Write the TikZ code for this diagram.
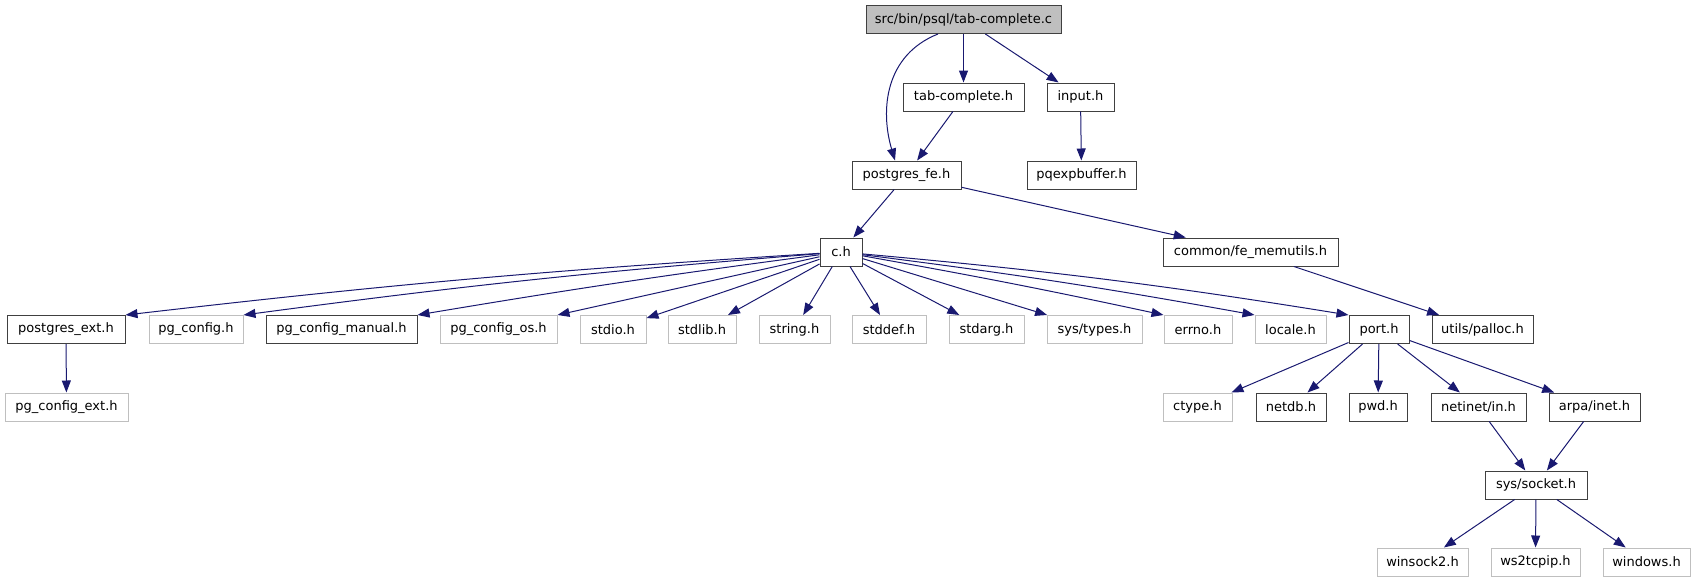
\documentclass[tikz,border=0pt]{standalone}
\usepackage{fontspec}
\setmainfont{DejaVu Sans}
\usetikzlibrary{arrows.meta}
\definecolor{edgecol}{HTML}{191970}
\definecolor{graybd}{HTML}{BFBFBF}
\definecolor{docbd}{HTML}{404040}
\begin{document}
\begin{tikzpicture}[x=1pt,y=-1pt,
  box/.style={line width=1pt, minimum height=28pt, inner sep=0pt, font=\fontsize{13}{15}\selectfont, text=black},
  doc/.style={box, draw=docbd},
  undoc/.style={box, draw=graybd},
  rootbox/.style={box, draw=docbd, fill=graybd},
  edge/.style={draw=edgecol, line width=1pt, -{Triangle[length=12pt,width=9pt]}}]
\useasboundingbox (0,0) rectangle (1695,581);
% row 1-3
\node[rootbox, minimum width=195pt] (root) at (963.5,19.5) {src/bin/psql/tab-complete.c};
\node[doc, minimum width=121pt] (tabh) at (963.5,97) {tab-complete.h};
\node[doc, minimum width=67pt] (inputh) at (1080.5,97) {input.h};
\node[doc, minimum width=109pt] (pgfe) at (906.5,175) {postgres\_fe.h};
\node[doc, minimum width=109pt] (pqexp) at (1081.5,175) {pqexpbuffer.h};
% row 4
\node[doc, minimum width=42pt] (ch) at (841,252) {c.h};
\node[doc, minimum width=175pt] (femem) at (1250.5,252) {common/fe\_memutils.h};
% row 5
\node[doc, minimum width=118pt] (pgext) at (66,329.5) {postgres\_ext.h};
\node[undoc, minimum width=94pt] (pgconfig) at (196,329.5) {pg\_config.h};
\node[doc, minimum width=151pt] (pgman) at (341.5,329.5) {pg\_config\_manual.h};
\node[undoc, minimum width=117pt] (pgos) at (498.5,329.5) {pg\_config\_os.h};
\node[undoc, minimum width=66pt] (stdio) at (613,329.5) {stdio.h};
\node[undoc, minimum width=68pt] (stdlib) at (702,329.5) {stdlib.h};
\node[undoc, minimum width=71pt] (string) at (794.5,329.5) {string.h};
\node[undoc, minimum width=74pt] (stddef) at (889,329.5) {stddef.h};
\node[undoc, minimum width=75pt] (stdarg) at (986.5,329.5) {stdarg.h};
\node[undoc, minimum width=95pt] (systypes) at (1094.5,329.5) {sys/types.h};
\node[undoc, minimum width=68pt] (errno) at (1198,329.5) {errno.h};
\node[undoc, minimum width=71pt] (locale) at (1290.5,329.5) {locale.h};
\node[doc, minimum width=60pt] (port) at (1379,329.5) {port.h};
\node[doc, minimum width=101pt] (palloc) at (1482.5,329.5) {utils/palloc.h};
% row 6
\node[undoc, minimum width=123pt] (pgcfgext) at (66.5,407) {pg\_config\_ext.h};
\node[undoc, minimum width=69pt] (ctype) at (1197.5,407) {ctype.h};
\node[doc, minimum width=70pt] (netdb) at (1291,407) {netdb.h};
\node[doc, minimum width=58pt] (pwd) at (1378,407) {pwd.h};
\node[doc, minimum width=95pt] (netinet) at (1478.5,407) {netinet/in.h};
\node[doc, minimum width=91pt] (arpa) at (1594.5,407) {arpa/inet.h};
% row 7-8
\node[doc, minimum width=102pt] (socket) at (1536,485) {sys/socket.h};
\node[undoc, minimum width=91pt] (winsock) at (1422.5,562) {winsock2.h};
\node[undoc, minimum width=89pt] (ws2) at (1535.5,562) {ws2tcpip.h};
\node[undoc, minimum width=87pt] (windows) at (1646.5,562) {windows.h};
% edges
\draw[edge] ([xshift=-25.5pt]root.south) .. controls (885,55) and (880,110) .. ([xshift=-11.5pt]pgfe.north);
\draw[edge] (root) -- (tabh);
\draw[edge] (root) -- (inputh);
\draw[edge] (tabh) -- (pgfe);
\draw[edge] (inputh) -- (pqexp);
\draw[edge] (pgfe) -- (ch);
\draw[edge] (pgfe) -- (femem);
\draw[edge] (femem) -- (palloc);
\draw[edge] (ch) to[bend right=1.5] (pgext.north east);
\draw[edge] (ch) to[bend right=1.5] (pgconfig.north east);
\draw[edge] (ch) to[bend right=1] (pgman.north east);
\draw[edge] (ch) -- (pgos.north east);
\draw[edge] (ch) -- (stdio);
\draw[edge] (ch) -- (stdlib);
\draw[edge] (ch) -- (string);
\draw[edge] (ch) -- (stddef);
\draw[edge] (ch) -- (stdarg);
\draw[edge] (ch) -- (systypes);
\draw[edge] (ch) to[bend left=1] (errno.north west);
\draw[edge] (ch) to[bend left=1.5] (locale.north west);
\draw[edge] (ch) to[bend left=2] (port.north west);
\draw[edge] (pgext) -- (pgcfgext);
\draw[edge] (port) -- (ctype);
\draw[edge] (port) -- (netdb);
\draw[edge] (port) -- (pwd);
\draw[edge] (port) -- (netinet);
\draw[edge] (port) -- (arpa);
\draw[edge] (netinet) -- (socket);
\draw[edge] (arpa) -- (socket);
\draw[edge] (socket) -- (winsock);
\draw[edge] (socket) -- (ws2);
\draw[edge] (socket) -- (windows);
\end{tikzpicture}
\end{document}
